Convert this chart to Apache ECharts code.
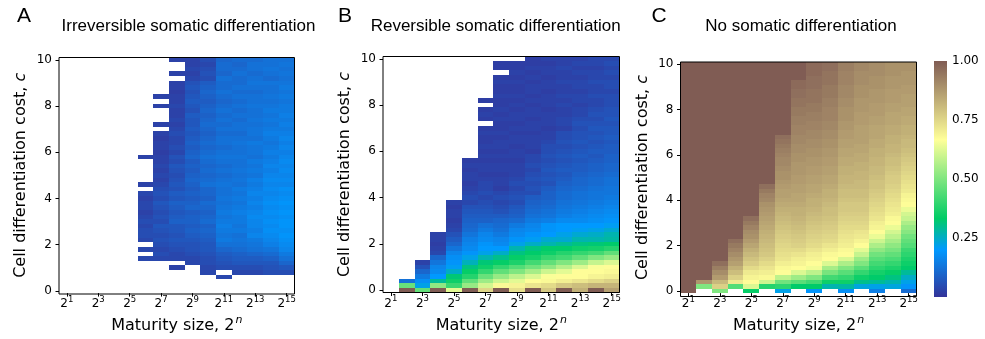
<!DOCTYPE html>
<html><head><meta charset="utf-8">
<script src="https://cdn.jsdelivr.net/npm/echarts@6/dist/echarts.min.js"></script>
<style>html,body{margin:0;padding:0;background:#fff}#c{width:985px;height:339px}</style>
</head><body><div id="c"></div>
<script>
const _ = null;
// maturity size exponents n (x categories) and cell differentiation cost levels (y categories)
const exponents = [1,2,3,4,5,6,7,8,9,10,11,12,13,14,15];
const costLevels = [0,0.2,0.4,0.6,0.8,1,1.2,1.4,1.6,1.8,2,2.2,2.4,2.6,2.8,3,3.2,3.4,3.6,3.8,4,4.2,4.4,4.6,4.8,5,5.2,5.4,5.6,5.8,6,6.2,6.4,6.6,6.8,7,7.2,7.4,7.6,7.8,8,8.2,8.4,8.6,8.8,9,9.2,9.4,9.6,9.8,10];
const xTickExponents = [1,3,5,7,9,11,13,15];
const yTickValues = [0,2,4,6,8,10];
const colorbarTicks = [0.25,0.5,0.75,1.0];
const titles = ['Irreversible somatic differentiation','Reversible somatic differentiation','No somatic differentiation'];
const panelLetters = ['A','B','C'];

// values x100, one array per column n=1..15, listed from c=10 (top) down to c=0 (bottom); null = empty
const irreversible = [
 [],[],[],[],[],
 [_,_,_,_,_,_,_,_,_,_,_,_,_,_,_,_,_,_,_,_,_,3,_,_,_,_,_,3,_,4,3,4,4,3,4,5,4,5,5,4,_,4,_,4,_,_,_,_,_,_,_],
 [_,_,_,_,_,_,_,_,3,_,3,_,_,_,3,_,3,2,3,3,2,3,3,4,3,4,3,4,5,6,5,7,6,5,6,5,7,6,5,6,5,4,5,4,_,_,_,_,_,_,_],
 [3,_,_,3,_,3,3,2,3,3,4,3,3,4,3,4,5,4,4,5,4,6,5,7,6,5,6,7,6,8,7,9,8,7,8,9,7,7,6,7,6,5,4,4,_,3,_,_,_,_,_],
 [3,3,4,3,4,6,7,6,7,8,7,6,8,7,7,8,7,8,9,8,9,10,8,9,8,9,10,9,8,9,8,9,10,8,9,9,8,9,8,7,6,6,5,4,4,_,_,_,_,_,_],
 [5,4,5,6,5,8,9,10,9,8,9,10,9,10,11,10,9,10,11,10,11,12,11,10,11,10,11,12,10,10,9,11,10,9,10,11,9,10,9,8,7,7,6,5,5,4,4,_,_,_,_],
 [10,11,11,10,12,11,11,12,11,10,11,12,11,12,11,12,11,12,12,11,12,13,12,11,12,11,12,13,12,12,13,12,13,14,13,14,15,14,13,14,12,10,8,7,6,5,_,4,_,_,_],
 [11,10,11,12,11,11,12,11,12,11,12,11,12,11,12,12,11,12,13,12,12,13,12,12,13,12,13,12,14,13,14,13,14,15,14,14,13,14,12,13,12,11,9,8,7,5,4,_,_,_,_],
 [11,12,12,11,12,13,12,11,12,12,13,12,12,13,12,13,13,12,14,13,13,12,14,13,14,13,15,14,15,16,15,16,15,16,17,16,16,15,16,14,13,12,10,8,7,5,4,_,_,_,_],
 [12,12,13,12,11,13,12,12,13,12,13,14,13,14,13,14,15,14,13,14,15,14,15,16,15,16,17,16,17,16,17,18,17,18,17,18,17,18,17,16,15,13,11,9,7,6,5,_,_,_,_],
 [12,13,12,13,12,13,14,13,14,13,14,14,15,14,15,14,15,16,15,16,15,16,17,16,17,16,17,16,18,17,18,19,18,19,18,19,19,18,19,18,17,16,14,12,10,7,5,_,_,_,_]
];
const reversible = [
 [],
 [_,_,_,_,_,_,_,_,_,_,_,_,_,_,_,_,_,_,_,_,_,_,_,_,_,_,_,_,_,_,_,_,_,_,_,_,_,_,_,_,_,_,_,_,_,_,_,_,12,47,100],
 [_,_,_,_,_,_,_,_,_,_,_,_,_,_,_,_,_,_,_,_,_,_,_,_,_,_,_,_,_,_,_,_,_,_,_,_,_,_,_,_,_,_,_,_,3,6,10,14,18,22,46],
 [_,_,_,_,_,_,_,_,_,_,_,_,_,_,_,_,_,_,_,_,_,_,_,_,_,_,_,_,_,_,_,_,_,_,_,_,_,_,3,3,2,3,4,10,13,16,17,20,29,52,100],
 [_,_,_,_,_,_,_,_,_,_,_,_,_,_,_,_,_,_,_,_,_,_,_,_,_,_,_,_,_,_,_,3,2,3,3,2,3,4,6,8,10,13,16,18,19,21,25,32,35,41,63],
 [_,_,_,_,_,_,_,_,_,_,_,_,_,_,_,_,_,_,_,_,_,_,2,3,2,3,3,2,3,4,5,4,6,7,8,9,10,11,13,15,16,17,19,22,26,31,34,38,46,53,100],
 [_,_,_,_,_,_,_,_,_,2,_,2,3,2,_,2,3,2,2,3,2,3,2,3,3,2,3,4,4,5,4,5,6,7,8,9,12,14,16,17,19,20,22,27,32,35,40,47,54,61,75],
 [_,2,2,_,2,3,2,2,3,2,2,3,2,3,2,2,3,2,3,3,2,3,2,3,3,2,3,3,2,4,5,4,5,6,8,10,11,12,14,16,17,20,25,30,34,40,46,53,60,68,100],
 [_,2,2,3,2,3,2,2,3,2,3,2,3,3,2,3,2,3,3,2,3,3,2,3,3,3,4,5,4,5,6,5,7,8,9,11,14,16,17,19,22,27,31,34,37,44,50,58,63,69,73],
 [2,2,3,2,3,2,3,3,2,3,2,3,3,2,3,3,2,3,3,3,2,4,4,5,4,5,6,5,6,5,8,9,10,11,12,14,16,17,19,21,25,31,33,36,42,48,55,62,67,72,100],
 [3,2,3,3,2,3,3,2,3,3,3,2,3,3,3,2,3,3,4,5,5,6,5,6,7,6,7,6,8,9,9,10,11,12,13,15,19,19,20,24,27,33,35,40,46,52,60,66,68,74,78],
 [3,3,4,3,3,4,3,3,4,3,4,3,3,4,4,3,5,5,6,5,6,7,6,7,8,7,8,9,10,11,11,12,13,14,15,17,20,20,22,24,29,33,38,42,50,57,63,67,70,78,100],
 [3,4,3,4,3,4,4,3,4,4,3,4,4,5,6,5,6,6,7,6,7,8,7,8,8,9,10,10,11,12,12,13,14,15,16,17,20,21,24,27,31,35,40,46,54,62,67,67,72,80,83],
 [4,4,3,4,4,5,4,4,5,4,4,5,6,5,6,7,6,7,6,7,8,7,8,9,9,10,11,11,12,13,13,14,15,16,17,18,20,22,25,27,32,36,42,50,59,66,67,69,74,82,100],
 [4,5,4,5,4,5,5,4,5,5,5,6,6,7,6,7,7,8,7,8,8,9,9,10,10,11,12,12,13,13,14,15,16,17,18,19,21,24,27,28,33,38,46,53,62,67,68,70,76,82,86]
];
const noDifferentiation = [
 [100,100,100,100,100,100,100,100,100,100,100,100,100,100,100,100,100,100,100,100,100,100,100,100,100,100,100,100,100,100,100,100,100,100,100,100,100,100,100,100,100,100,100,100,100,100,100,100,100,100,100],
 [100,100,100,100,100,100,100,100,100,100,100,100,100,100,100,100,100,100,100,100,100,100,100,100,100,100,100,100,100,100,100,100,100,100,100,100,100,100,100,100,100,100,100,100,100,100,100,100,88,50,_],
 [100,100,100,100,100,100,100,100,100,100,100,100,100,100,100,100,100,100,100,100,100,100,100,100,100,100,100,100,100,100,100,100,100,100,100,100,100,100,100,100,100,100,100,100,96,93,90,87,81,76,50],
 [100,100,100,100,100,100,100,100,100,100,100,100,100,100,100,100,100,100,100,100,100,100,100,100,100,100,100,100,100,100,100,100,100,100,100,100,100,100,100,96,94,92,90,88,86,83,80,76,71,44,_],
 [100,100,100,100,100,100,100,100,100,100,100,100,100,100,100,100,100,100,100,100,100,100,100,100,100,100,100,100,100,100,100,100,100,100,96,94,92,90,89,87,85,83,81,79,77,74,71,69,67,62,34],
 [100,100,100,100,100,100,100,100,100,100,100,100,100,100,100,100,100,100,100,100,100,100,100,100,100,100,100,96,94,92,91,89,88,87,86,85,84,83,82,81,80,79,78,76,74,72,70,68,60,38,_],
 [100,100,100,100,100,100,100,100,100,100,100,100,100,100,100,100,96,95,94,93,92,91,91,90,89,89,88,87,86,86,85,84,83,82,81,80,79,78,77,76,75,74,73,72,70,68,67,58,48,39,22],
 [100,100,100,100,97,97,96,96,95,95,94,94,93,93,92,92,91,91,90,90,89,89,88,88,88,87,87,86,86,85,85,84,83,83,82,81,80,79,78,77,76,74,72,70,69,67,62,54,45,33,_],
 [97,97,97,96,96,96,95,95,95,94,94,93,93,92,92,91,91,90,90,89,89,88,88,87,87,86,86,85,85,84,83,83,82,81,80,79,78,77,76,75,74,72,70,69,67,65,58,50,42,33,19],
 [96,96,95,95,95,94,94,94,93,93,92,92,92,91,91,90,90,89,89,88,88,87,87,86,86,85,85,84,83,83,82,81,80,80,79,78,77,76,75,74,72,70,68,67,62,55,49,42,35,27,_],
 [93,93,92,92,92,91,91,91,90,90,89,89,89,88,88,87,87,86,86,85,85,84,84,83,83,82,82,81,80,80,79,78,78,77,76,75,74,73,72,71,70,68,67,62,56,50,45,40,35,28,18],
 [91,91,90,90,90,89,89,89,88,88,88,87,87,87,86,86,86,86,85,85,84,84,83,83,82,82,81,81,80,80,79,78,78,77,76,75,74,72,71,69,67,63,59,54,50,45,40,35,30,23,_],
 [90,90,90,89,89,89,88,88,88,87,87,87,86,86,85,85,85,84,84,83,83,82,82,81,81,80,79,79,78,77,76,75,74,73,72,70,69,67,64,60,56,52,48,45,42,39,36,33,29,22,15],
 [89,89,89,88,88,88,87,87,87,86,86,85,85,85,84,84,83,83,82,82,81,80,80,79,78,77,77,76,75,74,73,72,71,70,68,67,64,61,58,55,52,49,46,43,40,37,34,31,27,23,_],
 [89,89,88,88,88,87,87,86,86,86,85,85,84,84,83,83,82,81,81,80,79,78,77,76,75,74,73,72,71,69,68,67,64,61,59,56,53,51,48,46,44,41,39,37,35,33,29,25,22,19,11]
];

// ---------- build ----------
const nRows = costLevels.length;
const problems = [];
function toHeat(cols, name) {
  const out = [];
  cols.forEach((col, xi) => {
    if (col.length && col.length !== nRows) problems.push(name + ' col ' + (xi + 1) + ' len ' + col.length);
    col.forEach((v, k) => { if (v !== null && v !== undefined) out.push([xi, nRows - 1 - k, v / 100]); });
  });
  return out;
}
const panels = [toHeat(irreversible, 'A'), toHeat(reversible, 'B'), toHeat(noDifferentiation, 'C')];

// matplotlib "terrain" colormap, truncated to its lower 75 %
const terrainStops = [[0, [51, 51, 153]], [0.2, [0, 153, 255]], [1 / 3, [0, 204, 102]], [2 / 3, [255, 255, 153]], [1, [128, 92, 84]]];
function terrain(t) {
  for (let i = 1; i < terrainStops.length; i++) {
    const [t1, c1] = terrainStops[i], [t0, c0] = terrainStops[i - 1];
    if (t <= t1 + 1e-9) {
      const f = (t - t0) / (t1 - t0);
      const c = c0.map((v, j) => Math.round(v + (c1[j] - v) * f));
      return 'rgb(' + c.join(',') + ')';
    }
  }
  return 'rgb(128,92,84)';
}
const cmap = [];
for (let i = 0; i <= 120; i++) cmap.push(terrain(i / 120));
const gradStops = terrainStops.map(s => ({ offset: s[0], color: 'rgb(' + s[1].join(',') + ')' }));

const AX_FONT = 'DejaVu Sans';
const grids = [
  { left: 59, top: 57.5, width: 235.5, height: 236.5 },
  { left: 383, top: 56.5, width: 236.5, height: 236 },
  { left: 680.5, top: 62, width: 236, height: 234.5 },
  { left: 934, top: 61, width: 13, height: 236 }
];
const xAxes = [], yAxes = [], series = [];
// each cell is snapped to whole pixels so neighbouring cells share edges (no seams)
function renderCell(params, api) {
  const c = api.coord([api.value(0), api.value(1)]);
  const s = api.size([1, 1]);
  const x0 = Math.round(c[0] - s[0] / 2), x1 = Math.round(c[0] + s[0] / 2);
  const y0 = Math.round(c[1] - s[1] / 2), y1 = Math.round(c[1] + s[1] / 2);
  return { type: 'rect', shape: { x: x0, y: y0, width: x1 - x0, height: y1 - y0 },
    style: { fill: api.visual('color'), stroke: null, lineWidth: 0 } };
}
for (let g = 0; g < 3; g++) {
  xAxes.push({
    type: 'category', gridIndex: g, data: exponents.map(String),
    axisLine: { show: false },
    axisTick: { show: true, alignWithLabel: true, length: 3.5, interval: i => xTickExponents.includes(exponents[i]), lineStyle: { color: '#000', width: 1 } },
    axisLabel: {
      interval: i => xTickExponents.includes(exponents[i]), margin: 3,
      formatter: v => '{b|2}{s|' + v + '}',
      rich: {
        b: { fontSize: 12, fontFamily: AX_FONT, color: '#000', lineHeight: 14, verticalAlign: 'bottom' },
        s: { fontSize: 8.5, fontFamily: AX_FONT, color: '#000', lineHeight: 10, verticalAlign: 'bottom', padding: [0, 0, 6, 0] }
      }
    },
    name: '{a|Maturity size, 2}{s|n}', nameLocation: 'middle', nameGap: 18,
    nameTextStyle: { rich: {
      a: { fontSize: 16, fontFamily: AX_FONT, color: '#000', lineHeight: 18, verticalAlign: 'bottom' },
      s: { fontSize: 11, fontFamily: AX_FONT, fontStyle: 'italic', color: '#000', lineHeight: 12, verticalAlign: 'bottom', padding: [0, 0, 8, 1] }
    } },
    splitLine: { show: false }
  });
  yAxes.push({
    type: 'category', gridIndex: g, data: costLevels.map(String),
    axisLine: { show: false },
    axisTick: { show: true, alignWithLabel: true, length: 3.5, interval: i => yTickValues.includes(costLevels[i]), lineStyle: { color: '#000', width: 1 } },
    axisLabel: { interval: i => yTickValues.includes(costLevels[i]), margin: 7, fontSize: 12, fontFamily: AX_FONT, color: '#000', formatter: v => String(Math.round(+v)) },
    name: '{a|Cell differentiation cost, }{b|c}', nameLocation: 'middle', nameGap: 30,
    nameTextStyle: { rich: { a: { fontSize: 16, fontFamily: AX_FONT, color: '#000' }, b: { fontSize: 16, fontFamily: AX_FONT, fontStyle: 'italic', color: '#000' } } },
    splitLine: { show: false }
  });
  series.push({
    type: 'custom', xAxisIndex: g, yAxisIndex: g, data: panels[g], animation: false, silent: true,
    encode: { x: 0, y: 1 }, renderItem: renderCell
  });
}
// colorbar axes
xAxes.push({ type: 'value', gridIndex: 3, min: 0, max: 1, show: false });
yAxes.push({
  type: 'value', gridIndex: 3, min: 0, max: 1, interval: 0.25, position: 'right',
  axisLine: { show: false }, splitLine: { show: false },
  axisTick: { show: true, length: 3.5, customValues: colorbarTicks, lineStyle: { color: '#000' } },
  axisLabel: { customValues: colorbarTicks, margin: 5, fontSize: 12, fontFamily: AX_FONT, color: '#000', formatter: v => (+v).toFixed(2) }
});
series.push({
  type: 'custom', xAxisIndex: 3, yAxisIndex: 3, data: [[0, 0]], silent: true, animation: false,
  renderItem: (params, api) => {
    const p0 = api.coord([0, 1]), p1 = api.coord([1, 0]);
    return { type: 'rect', shape: { x: p0[0], y: p0[1], width: p1[0] - p0[0], height: p1[1] - p0[1] },
      style: { fill: new echarts.graphic.LinearGradient(0, 1, 0, 0, gradStops) } };
  }
});

const graphics = [];
const titleX = [188.5, 495.7, 801];
const letterX = [17, 338, 651.5];
for (let g = 0; g < 3; g++) {
  graphics.push({ type: 'text', x: titleX[g], y: 26, z: 10, silent: true,
    style: { text: titles[g], font: '17px "Liberation Sans", Arial, sans-serif', fill: '#000', textAlign: 'center', textVerticalAlign: 'middle' } });
  graphics.push({ type: 'text', x: letterX[g], y: 16, z: 10, silent: true,
    style: { text: panelLetters[g], font: '21px "Liberation Sans", Arial, sans-serif', fill: '#000', textAlign: 'left', textVerticalAlign: 'middle' } });
  const gr = grids[g];
  graphics.push({ type: 'rect', z: 100, silent: true, shape: { x: gr.left, y: gr.top, width: gr.width, height: gr.height },
    style: { fill: 'none', stroke: '#000', lineWidth: 1 } });
}
if (problems.length) graphics.push({ type: 'text', x: 5, y: 330, z: 200, style: { text: problems.join('; '), fill: 'red', font: '10px sans-serif' } });

const chart = echarts.init(document.getElementById('c'), null, { renderer: 'canvas' });
chart.setOption({
  animation: false, backgroundColor: '#fff',
  grid: grids, xAxis: xAxes, yAxis: yAxes, series: series,
  visualMap: [{ type: 'continuous', show: false, min: 0, max: 1, dimension: 2, seriesIndex: [0, 1, 2], inRange: { color: cmap } }],
  graphic: graphics
});
</script></body></html>
